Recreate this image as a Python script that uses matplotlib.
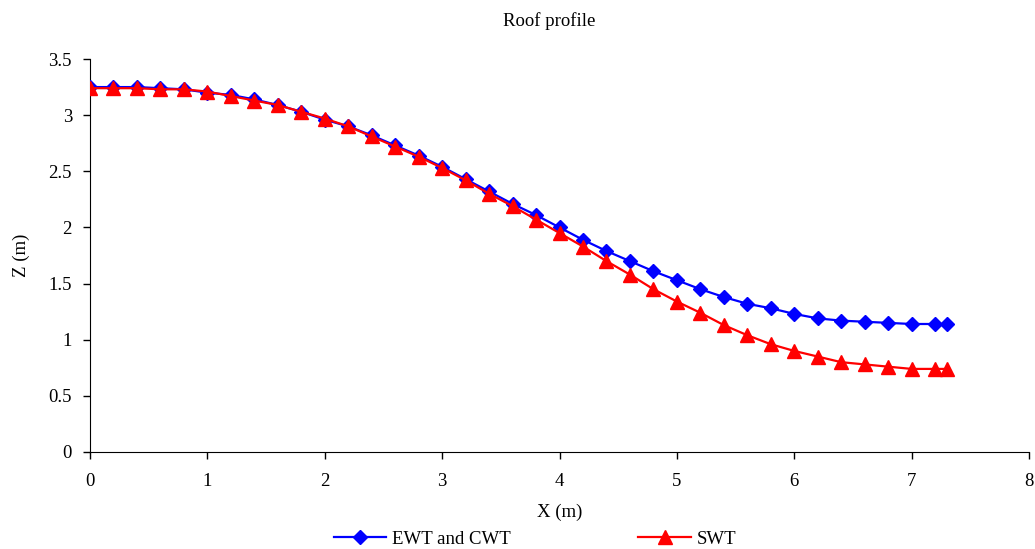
import matplotlib
matplotlib.use("Agg")
import matplotlib.pyplot as plt

x_vals = [0, 0.2, 0.4, 0.6, 0.8, 1.0, 1.2, 1.4, 1.6, 1.8, 2.0, 2.2, 2.4, 2.6, 2.8,
          3.0, 3.2, 3.4, 3.6, 3.8, 4.0, 4.2, 4.4, 4.6, 4.8, 5.0, 5.2, 5.4, 5.6, 5.8,
          6.0, 6.2, 6.4, 6.6, 6.8, 7.0, 7.2, 7.3]
ewt_cwt = [3.25, 3.25, 3.25, 3.24, 3.23, 3.20, 3.18, 3.14, 3.09, 3.03, 2.96, 2.90,
           2.82, 2.73, 2.64, 2.54, 2.43, 2.32, 2.21, 2.11, 2.00, 1.89, 1.79, 1.70,
           1.61, 1.53, 1.45, 1.38, 1.32, 1.28, 1.23, 1.19, 1.17, 1.16, 1.15, 1.14,
           1.14, 1.14]
swt = [3.24, 3.24, 3.24, 3.23, 3.23, 3.21, 3.17, 3.13, 3.09, 3.03, 2.97, 2.90,
       2.81, 2.72, 2.63, 2.53, 2.42, 2.30, 2.19, 2.07, 1.95, 1.83, 1.70, 1.58,
       1.45, 1.34, 1.24, 1.13, 1.04, 0.96, 0.90, 0.85, 0.80, 0.78, 0.76, 0.74,
       0.74, 0.74]
x_ticks = [0, 1, 2, 3, 4, 5, 6, 7, 8]
y_ticks = [0, 0.5, 1, 1.5, 2, 2.5, 3, 3.5]
y_tick_labels = ["0", "0.5", "1", "1.5", "2", "2.5", "3", "3.5"]

plt.rcParams['font.family'] = ['Liberation Serif', 'DejaVu Serif']

fig = plt.figure(figsize=(10.35, 5.49), dpi=100)
ax = fig.add_axes([90/1035, 1 - 452/549, (1029-90)/1035, (452-59)/549])

ax.plot(x_vals, ewt_cwt, color='#0000FF', lw=1.6, marker='D', markersize=7.5,
        label='EWT and CWT', zorder=3)
ax.plot(x_vals, swt, color='#FF0000', lw=1.6, marker='^', markersize=10,
        label='SWT', zorder=4)

ax.set_xlim(0, 8)
ax.set_ylim(0, 3.5)
ax.set_xticks(x_ticks)
ax.set_yticks(y_ticks)
ax.set_yticklabels(y_tick_labels)
ax.spines['top'].set_visible(False)
ax.spines['right'].set_visible(False)
ax.tick_params(axis='both', direction='out', length=5, labelsize=13.5, width=1)
ax.tick_params(axis='x', pad=10)
ax.tick_params(axis='y', pad=8)

fig.text(549/1035, 1 - 21/549, 'Roof profile', fontsize=13.5, ha='center', va='center')
ax.set_xlabel('X (m)', fontsize=13.5, labelpad=10)
ax.set_ylabel('Z (m)', fontsize=13.5, labelpad=13)

fig.legend(loc='center', bbox_to_anchor=(535/1035, 1 - 539/549), ncol=2, frameon=False,
           fontsize=13.5, columnspacing=6.8, handlelength=2.8, handletextpad=0.3)

fig.savefig('out.png', dpi=100)
